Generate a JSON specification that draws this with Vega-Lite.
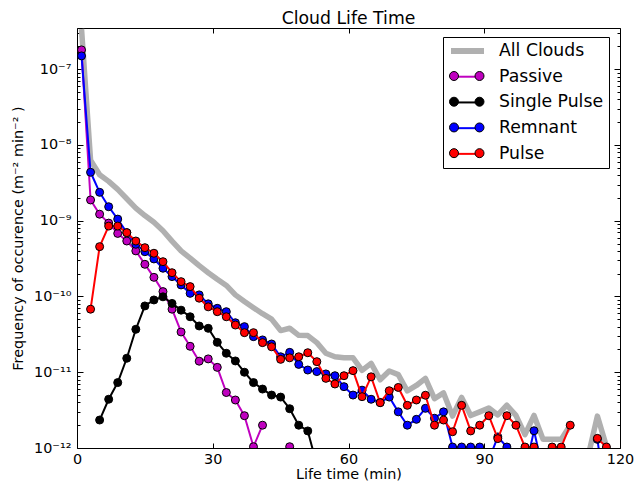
{
  "$schema": "https://vega.github.io/schema/vega-lite/v6.json",
  "width": 543,
  "height": 420,
  "autosize": {"type": "none"},
  "padding": {"left": 77, "top": 28, "right": 14, "bottom": 40},
  "title": {"text": "Cloud Life Time", "fontSize": 17.28, "fontWeight": "normal", "font": "DejaVu Sans", "color": "black", "anchor": "middle", "offset": 3, "baseline": "bottom", "dy": 23},
  "datasets": {
    "allClouds": [
      {"t": 1, "v": 3.4e-7}, {"t": 3, "v": 6.31e-9}, {"t": 5, "v": 4.05e-9}, {"t": 7, "v": 3.31e-9}, {"t": 9, "v": 2.59e-9},
      {"t": 11, "v": 1.95e-9}, {"t": 13, "v": 1.47e-9}, {"t": 15, "v": 1.17e-9}, {"t": 17, "v": 9.54e-10}, {"t": 19, "v": 7.39e-10},
      {"t": 21, "v": 5.38e-10}, {"t": 23, "v": 3.99e-10}, {"t": 25, "v": 3.21e-10}, {"t": 27, "v": 2.55e-10}, {"t": 29, "v": 2.06e-10},
      {"t": 31, "v": 1.69e-10}, {"t": 33, "v": 1.40e-10}, {"t": 35, "v": 1.05e-10}, {"t": 37, "v": 8.6e-11}, {"t": 39, "v": 7.11e-11},
      {"t": 41, "v": 5.93e-11}, {"t": 43, "v": 5.03e-11}, {"t": 45, "v": 3.55e-11}, {"t": 47, "v": 3.81e-11}, {"t": 49, "v": 3.07e-11},
      {"t": 51, "v": 3.05e-11}, {"t": 53, "v": 2.46e-11}, {"t": 55, "v": 1.78e-11}, {"t": 57, "v": 1.6e-11}, {"t": 59, "v": 1.55e-11},
      {"t": 61, "v": 1.55e-11}, {"t": 63, "v": 1.06e-11}, {"t": 65, "v": 1.31e-11}, {"t": 67, "v": 7.96e-12}, {"t": 69, "v": 1.04e-11},
      {"t": 71, "v": 9.3e-12}, {"t": 73, "v": 5.66e-12}, {"t": 75, "v": 6.69e-12}, {"t": 77, "v": 8.31e-12}, {"t": 79, "v": 4.47e-12},
      {"t": 81, "v": 5.34e-12}, {"t": 83, "v": 2.64e-12}, {"t": 85, "v": 4.66e-12}, {"t": 87, "v": 2.68e-12}, {"t": 89, "v": 3.0e-12},
      {"t": 91, "v": 3.37e-12}, {"t": 93, "v": 2.73e-12}, {"t": 95, "v": 3.67e-12}, {"t": 97, "v": 2.7e-12}, {"t": 99, "v": 1.5e-12},
      {"t": 101, "v": 2.69e-12}, {"t": 103, "v": 1.3e-12}, {"t": 105, "v": 1.3e-12}, {"t": 107, "v": 1.3e-12}, {"t": 109, "v": 2.0e-12},
      {"t": 111, "v": null}, {"t": 113, "v": 8e-13}, {"t": 115, "v": 2.64e-12}, {"t": 117, "v": 1.05e-12}
    ],
    "passive": [
      {"t": 1, "v": 1.8e-7}, {"t": 3, "v": 1.88e-9}, {"t": 5, "v": 1.22e-9}, {"t": 7, "v": 9.3e-10}, {"t": 9, "v": 6.8e-10},
      {"t": 11, "v": 5.4e-10}, {"t": 13, "v": 4.0e-10}, {"t": 15, "v": 2.66e-10}, {"t": 17, "v": 1.79e-10}, {"t": 19, "v": 1.16e-10},
      {"t": 21, "v": 6.8e-11}, {"t": 23, "v": 3.4e-11}, {"t": 25, "v": 2.2e-11}, {"t": 27, "v": 1.4e-11}, {"t": 29, "v": 1.5e-11},
      {"t": 31, "v": 1.16e-11}, {"t": 33, "v": 5.4e-12}, {"t": 35, "v": 4.3e-12}, {"t": 37, "v": 2.67e-12}, {"t": 39, "v": 1.04e-12},
      {"t": 41, "v": 2.0e-12}, {"t": 43, "v": null}, {"t": 47, "v": 1.04e-12}
    ],
    "singlePulse": [
      {"t": 5, "v": 2.34e-12}, {"t": 7, "v": 4.4e-12}, {"t": 9, "v": 7.3e-12}, {"t": 11, "v": 1.53e-11}, {"t": 13, "v": 3.69e-11},
      {"t": 15, "v": 7.5e-11}, {"t": 17, "v": 9.0e-11}, {"t": 19, "v": 9.9e-11}, {"t": 21, "v": 8.1e-11}, {"t": 23, "v": 6.6e-11},
      {"t": 25, "v": 5.4e-11}, {"t": 27, "v": 4.08e-11}, {"t": 29, "v": 3.8e-11}, {"t": 31, "v": 2.48e-11}, {"t": 33, "v": 1.78e-11},
      {"t": 35, "v": 1.41e-11}, {"t": 37, "v": 1.0e-11}, {"t": 39, "v": 7.3e-12}, {"t": 41, "v": 6.0e-12}, {"t": 43, "v": 5.0e-12},
      {"t": 45, "v": 4.7e-12}, {"t": 47, "v": 3.3e-12}, {"t": 49, "v": 2.0e-12}, {"t": 51, "v": 1.68e-12}, {"t": 53, "v": 6e-13}
    ],
    "remnant": [
      {"t": 1, "v": 1.5e-7}, {"t": 3, "v": 4.36e-9}, {"t": 5, "v": 2.37e-9}, {"t": 7, "v": 1.53e-9}, {"t": 9, "v": 1.05e-9},
      {"t": 11, "v": 6.96e-10}, {"t": 13, "v": 4.89e-10}, {"t": 15, "v": 3.9e-10}, {"t": 17, "v": 3.13e-10}, {"t": 19, "v": 2.36e-10},
      {"t": 21, "v": 1.83e-10}, {"t": 23, "v": 1.42e-10}, {"t": 25, "v": 1.1e-10}, {"t": 27, "v": 1.05e-10}, {"t": 29, "v": 8.0e-11},
      {"t": 31, "v": 6.98e-11}, {"t": 33, "v": 6.3e-11}, {"t": 35, "v": 4.5e-11}, {"t": 37, "v": 4.0e-11}, {"t": 39, "v": 2.95e-11},
      {"t": 41, "v": 2.67e-11}, {"t": 43, "v": 2.36e-11}, {"t": 45, "v": 1.6e-11}, {"t": 47, "v": 1.83e-11}, {"t": 49, "v": 1.27e-11},
      {"t": 51, "v": 1.07e-11}, {"t": 53, "v": 1.02e-11}, {"t": 55, "v": 9.5e-12}, {"t": 57, "v": 9.0e-12}, {"t": 59, "v": 6.45e-12},
      {"t": 61, "v": 5.0e-12}, {"t": 63, "v": 5.8e-12}, {"t": 65, "v": 4.4e-12}, {"t": 67, "v": 4.0e-12}, {"t": 69, "v": 4.7e-12},
      {"t": 71, "v": 3.0e-12}, {"t": 73, "v": 2.0e-12}, {"t": 75, "v": 2.39e-12}, {"t": 77, "v": 3.34e-12}, {"t": 79, "v": 2.47e-12},
      {"t": 81, "v": 3.0e-12}, {"t": 83, "v": 1.03e-12}, {"t": 85, "v": 1.03e-12}, {"t": 87, "v": 1.03e-12}, {"t": 89, "v": 1.03e-12},
      {"t": 91, "v": 7e-13}, {"t": 93, "v": 1.4e-12}, {"t": 95, "v": 1.03e-12}, {"t": 97, "v": 7e-13}, {"t": 99, "v": 5e-13},
      {"t": 101, "v": 1.69e-12}, {"t": 103, "v": 5e-13}, {"t": 105, "v": null}, {"t": 115, "v": 1.3e-12}, {"t": 117, "v": 2e-13}
    ],
    "pulse": [
      {"t": 3, "v": 6.8e-11}, {"t": 5, "v": 4.55e-10}, {"t": 7, "v": 8.5e-10}, {"t": 9, "v": 8.5e-10}, {"t": 11, "v": 6.96e-10},
      {"t": 13, "v": 5.4e-10}, {"t": 15, "v": 4.41e-10}, {"t": 17, "v": 3.72e-10}, {"t": 19, "v": 2.88e-10}, {"t": 21, "v": 2.06e-10},
      {"t": 23, "v": 1.57e-10}, {"t": 25, "v": 1.35e-10}, {"t": 27, "v": 9.5e-11}, {"t": 29, "v": 7.3e-11}, {"t": 31, "v": 6.3e-11},
      {"t": 33, "v": 5.4e-11}, {"t": 35, "v": 4.2e-11}, {"t": 37, "v": 3.33e-11}, {"t": 39, "v": 3.33e-11}, {"t": 41, "v": 2.46e-11},
      {"t": 43, "v": 2.17e-11}, {"t": 45, "v": 1.48e-11}, {"t": 47, "v": 1.55e-11}, {"t": 49, "v": 1.6e-11}, {"t": 51, "v": 1.81e-11},
      {"t": 53, "v": 1.38e-11}, {"t": 55, "v": 8.3e-12}, {"t": 57, "v": 7.0e-12}, {"t": 59, "v": 9.0e-12}, {"t": 61, "v": 1.05e-11},
      {"t": 63, "v": 4.76e-12}, {"t": 65, "v": 8.7e-12}, {"t": 67, "v": 3.96e-12}, {"t": 69, "v": 5.7e-12}, {"t": 71, "v": 6.3e-12},
      {"t": 73, "v": 3.66e-12}, {"t": 75, "v": 4.3e-12}, {"t": 77, "v": 4.97e-12}, {"t": 79, "v": 2.0e-12}, {"t": 81, "v": 2.34e-12},
      {"t": 83, "v": 1.64e-12}, {"t": 85, "v": 3.66e-12}, {"t": 87, "v": 1.68e-12}, {"t": 89, "v": 2.0e-12}, {"t": 91, "v": 2.67e-12},
      {"t": 93, "v": 1.33e-12}, {"t": 95, "v": 2.67e-12}, {"t": 97, "v": 2.0e-12}, {"t": 99, "v": 1.03e-12}, {"t": 101, "v": 1.03e-12},
      {"t": 103, "v": 8e-13}, {"t": 105, "v": 1.03e-12}, {"t": 107, "v": 1.03e-12}, {"t": 109, "v": 2.0e-12}, {"t": 111, "v": null},
      {"t": 115, "v": 1.34e-12}, {"t": 117, "v": 1.03e-12}
    ]
  },
  "layer": [
    {
      "data": {"name": "allClouds"},
      "mark": {"type": "line", "strokeWidth": 5.5, "strokeJoin": "round", "clip": true, "invalid": "break-paths-filter-domains"},
      "encoding": {
        "x": {"field": "t", "type": "quantitative", "scale": {"domain": [0, 120], "nice": false, "zero": false},
          "axis": {"title": "Life time (min)", "values": [0, 30, 60, 90, 120], "tickSize": -5, "labelPadding": 9, "titlePadding": 2, "labelFlush": false}},
        "y": {"field": "v", "type": "quantitative", "scale": {"type": "log", "domain": [1e-12, 3.5e-7], "nice": false},
          "axis": {
            "title": "Frequency of occurence (m⁻² min⁻² )",
            "values": [1e-12, 2e-12, 3e-12, 4e-12, 5e-12, 6e-12, 7e-12, 8e-12, 9e-12,
                       1e-11, 2e-11, 3e-11, 4e-11, 5e-11, 6e-11, 7e-11, 8e-11, 9e-11,
                       1e-10, 2e-10, 3e-10, 4e-10, 5e-10, 6e-10, 7e-10, 8e-10, 9e-10,
                       1e-9, 2e-9, 3e-9, 4e-9, 5e-9, 6e-9, 7e-9, 8e-9, 9e-9,
                       1e-8, 2e-8, 3e-8, 4e-8, 5e-8, 6e-8, 7e-8, 8e-8, 9e-8,
                       1e-7, 2e-7, 3e-7],
            "tickSize": {"condition": {"test": "abs(log(datum.value)/LN10 - round(log(datum.value)/LN10)) < 0.001", "value": -6}, "value": -3},
            "labelPadding": 12,
            "labelExpr": "abs(log(datum.value)/LN10 - round(log(datum.value)/LN10)) < 0.001 ? ['10⁻¹²','10⁻¹¹','10⁻¹⁰','10⁻⁹','10⁻⁸','10⁻⁷'][round(log(datum.value)/LN10)+12] : ''",
            "labelOverlap": false,
            "labelFlush": false,
            "titlePadding": 8
          }},
        "stroke": {"datum": "All Clouds", "type": "nominal",
          "scale": {"domain": ["All Clouds", "Passive", "Single Pulse", "Remnant", "Pulse"], "range": ["#b0b0b0", "#bf00bf", "#000000", "#0000ff", "#ff0000"]},
          "legend": {
            "orient": "none", "legendX": 366, "legendY": 9, "title": null,
            "symbolType": "M-1,0L5.2,0", "symbolSize": 100, "symbolStrokeWidth": 2,
            "labelFontSize": 17.28, "labelFont": "DejaVu Sans", "labelColor": "black", "labelOffset": 33.36, "labelLimit": 300,
            "rowPadding": 7.72, "padding": 5.36, "strokeColor": "black", "cornerRadius": 0,
            "encode": {"symbols": {"update": {
              "shape": {"signal": "datum.value === 'All Clouds' ? 'M-1,-0.4L5.2,-0.4L5.2,0.4L-1,0.4Z' : 'M-1,0L5.2,0'"},
              "fill": {"signal": "datum.value === 'All Clouds' ? '#b0b0b0' : 'transparent'"},
              "opacity": {"value": 1}
            }}}
          }}
      }
    },
    {
      "data": {"name": "passive"},
      "mark": {"type": "line", "strokeWidth": 2, "strokeJoin": "round", "clip": true, "invalid": "break-paths-filter-domains"},
      "encoding": {
        "x": {"field": "t", "type": "quantitative", "scale": {"domain": [0, 120], "nice": false, "zero": false}, "axis": null},
        "y": {"field": "v", "type": "quantitative", "scale": {"type": "log", "domain": [1e-12, 3.5e-7], "nice": false}, "axis": null},
        "stroke": {"datum": "Passive", "type": "nominal", "scale": {"domain": ["All Clouds", "Passive", "Single Pulse", "Remnant", "Pulse"], "range": ["#b0b0b0", "#bf00bf", "#000000", "#0000ff", "#ff0000"]}}
      }
    },
    {
      "data": {"name": "passive"},
      "mark": {"type": "point", "shape": "circle", "filled": true, "size": 64, "opacity": 1, "stroke": "black", "strokeWidth": 1, "clip": true},
      "encoding": {
        "x": {"field": "t", "type": "quantitative", "scale": {"domain": [0, 120], "nice": false, "zero": false}, "axis": null},
        "y": {"field": "v", "type": "quantitative", "scale": {"type": "log", "domain": [1e-12, 3.5e-7], "nice": false}, "axis": null},
        "fill": {"datum": "Passive", "type": "nominal",
          "scale": {"domain": ["Passive", "Single Pulse", "Remnant", "Pulse"], "range": ["#bf00bf", "#000000", "#0000ff", "#ff0000"]},
          "legend": {
            "orient": "none", "legendX": 366, "legendY": 34, "title": null,
            "symbolType": "M-1.5,0A0.9,0.9 0 1,0 0.3,0A0.9,0.9 0 1,0 -1.5,0Z M3.6,0A0.9,0.9 0 1,0 5.4,0A0.9,0.9 0 1,0 3.6,0Z",
            "symbolSize": 100, "symbolStrokeColor": "black", "symbolStrokeWidth": 1, "symbolOpacity": 1,
            "labelFontSize": 17.28, "labelFont": "DejaVu Sans", "labelOpacity": 0, "labelOffset": 33.36, "labelLimit": 300,
            "rowPadding": 7.72, "padding": 5.36,
            "encode": {"symbols": {"update": {"stroke": {"value": "black"}, "opacity": {"value": 1}}}}
          }}
      }
    },
    {
      "data": {"name": "singlePulse"},
      "mark": {"type": "line", "strokeWidth": 2, "strokeJoin": "round", "clip": true, "invalid": "break-paths-filter-domains"},
      "encoding": {
        "x": {"field": "t", "type": "quantitative", "scale": {"domain": [0, 120], "nice": false, "zero": false}, "axis": null},
        "y": {"field": "v", "type": "quantitative", "scale": {"type": "log", "domain": [1e-12, 3.5e-7], "nice": false}, "axis": null},
        "stroke": {"datum": "Single Pulse", "type": "nominal", "scale": {"domain": ["All Clouds", "Passive", "Single Pulse", "Remnant", "Pulse"], "range": ["#b0b0b0", "#bf00bf", "#000000", "#0000ff", "#ff0000"]}}
      }
    },
    {
      "data": {"name": "singlePulse"},
      "mark": {"type": "point", "shape": "circle", "filled": true, "size": 64, "opacity": 1, "stroke": "black", "strokeWidth": 1, "clip": true},
      "encoding": {
        "x": {"field": "t", "type": "quantitative", "scale": {"domain": [0, 120], "nice": false, "zero": false}, "axis": null},
        "y": {"field": "v", "type": "quantitative", "scale": {"type": "log", "domain": [1e-12, 3.5e-7], "nice": false}, "axis": null},
        "fill": {"datum": "Single Pulse", "type": "nominal", "scale": {"domain": ["Passive", "Single Pulse", "Remnant", "Pulse"], "range": ["#bf00bf", "#000000", "#0000ff", "#ff0000"]}}
      }
    },
    {
      "data": {"name": "remnant"},
      "mark": {"type": "line", "strokeWidth": 2, "strokeJoin": "round", "clip": true, "invalid": "break-paths-filter-domains"},
      "encoding": {
        "x": {"field": "t", "type": "quantitative", "scale": {"domain": [0, 120], "nice": false, "zero": false}, "axis": null},
        "y": {"field": "v", "type": "quantitative", "scale": {"type": "log", "domain": [1e-12, 3.5e-7], "nice": false}, "axis": null},
        "stroke": {"datum": "Remnant", "type": "nominal", "scale": {"domain": ["All Clouds", "Passive", "Single Pulse", "Remnant", "Pulse"], "range": ["#b0b0b0", "#bf00bf", "#000000", "#0000ff", "#ff0000"]}}
      }
    },
    {
      "data": {"name": "remnant"},
      "mark": {"type": "point", "shape": "circle", "filled": true, "size": 64, "opacity": 1, "stroke": "black", "strokeWidth": 1, "clip": true},
      "encoding": {
        "x": {"field": "t", "type": "quantitative", "scale": {"domain": [0, 120], "nice": false, "zero": false}, "axis": null},
        "y": {"field": "v", "type": "quantitative", "scale": {"type": "log", "domain": [1e-12, 3.5e-7], "nice": false}, "axis": null},
        "fill": {"datum": "Remnant", "type": "nominal", "scale": {"domain": ["Passive", "Single Pulse", "Remnant", "Pulse"], "range": ["#bf00bf", "#000000", "#0000ff", "#ff0000"]}}
      }
    },
    {
      "data": {"name": "pulse"},
      "mark": {"type": "line", "strokeWidth": 2, "strokeJoin": "round", "clip": true, "invalid": "break-paths-filter-domains"},
      "encoding": {
        "x": {"field": "t", "type": "quantitative", "scale": {"domain": [0, 120], "nice": false, "zero": false}, "axis": null},
        "y": {"field": "v", "type": "quantitative", "scale": {"type": "log", "domain": [1e-12, 3.5e-7], "nice": false}, "axis": null},
        "stroke": {"datum": "Pulse", "type": "nominal", "scale": {"domain": ["All Clouds", "Passive", "Single Pulse", "Remnant", "Pulse"], "range": ["#b0b0b0", "#bf00bf", "#000000", "#0000ff", "#ff0000"]}}
      }
    },
    {
      "data": {"name": "pulse"},
      "mark": {"type": "point", "shape": "circle", "filled": true, "size": 64, "opacity": 1, "stroke": "black", "strokeWidth": 1, "clip": true},
      "encoding": {
        "x": {"field": "t", "type": "quantitative", "scale": {"domain": [0, 120], "nice": false, "zero": false},
          "axis": {"orient": "top", "title": null, "values": [0, 30, 60, 90, 120], "labels": false, "tickSize": -5}},
        "y": {"field": "v", "type": "quantitative", "scale": {"type": "log", "domain": [1e-12, 3.5e-7], "nice": false},
          "axis": {
            "orient": "right", "title": null, "labels": false,
            "values": [1e-12, 2e-12, 3e-12, 4e-12, 5e-12, 6e-12, 7e-12, 8e-12, 9e-12,
                       1e-11, 2e-11, 3e-11, 4e-11, 5e-11, 6e-11, 7e-11, 8e-11, 9e-11,
                       1e-10, 2e-10, 3e-10, 4e-10, 5e-10, 6e-10, 7e-10, 8e-10, 9e-10,
                       1e-9, 2e-9, 3e-9, 4e-9, 5e-9, 6e-9, 7e-9, 8e-9, 9e-9,
                       1e-8, 2e-8, 3e-8, 4e-8, 5e-8, 6e-8, 7e-8, 8e-8, 9e-8,
                       1e-7, 2e-7, 3e-7],
            "tickSize": {"condition": {"test": "abs(log(datum.value)/LN10 - round(log(datum.value)/LN10)) < 0.001", "value": -6}, "value": -3}
          }},
        "fill": {"datum": "Pulse", "type": "nominal", "scale": {"domain": ["Passive", "Single Pulse", "Remnant", "Pulse"], "range": ["#bf00bf", "#000000", "#0000ff", "#ff0000"]}}
      }
    }
  ],
  "resolve": {"axis": {"x": "independent", "y": "independent"}},
  "config": {
    "font": "DejaVu Sans",
    "view": {"stroke": "black", "strokeWidth": 1},
    "axis": {
      "domain": false, "grid": false, "tickColor": "black", "tickWidth": 1,
      "labelColor": "black", "titleColor": "black",
      "labelFont": "DejaVu Sans", "titleFont": "DejaVu Sans",
      "labelFontSize": 14.4, "titleFontSize": 14.4, "titleFontWeight": "normal"
    }
  }
}
